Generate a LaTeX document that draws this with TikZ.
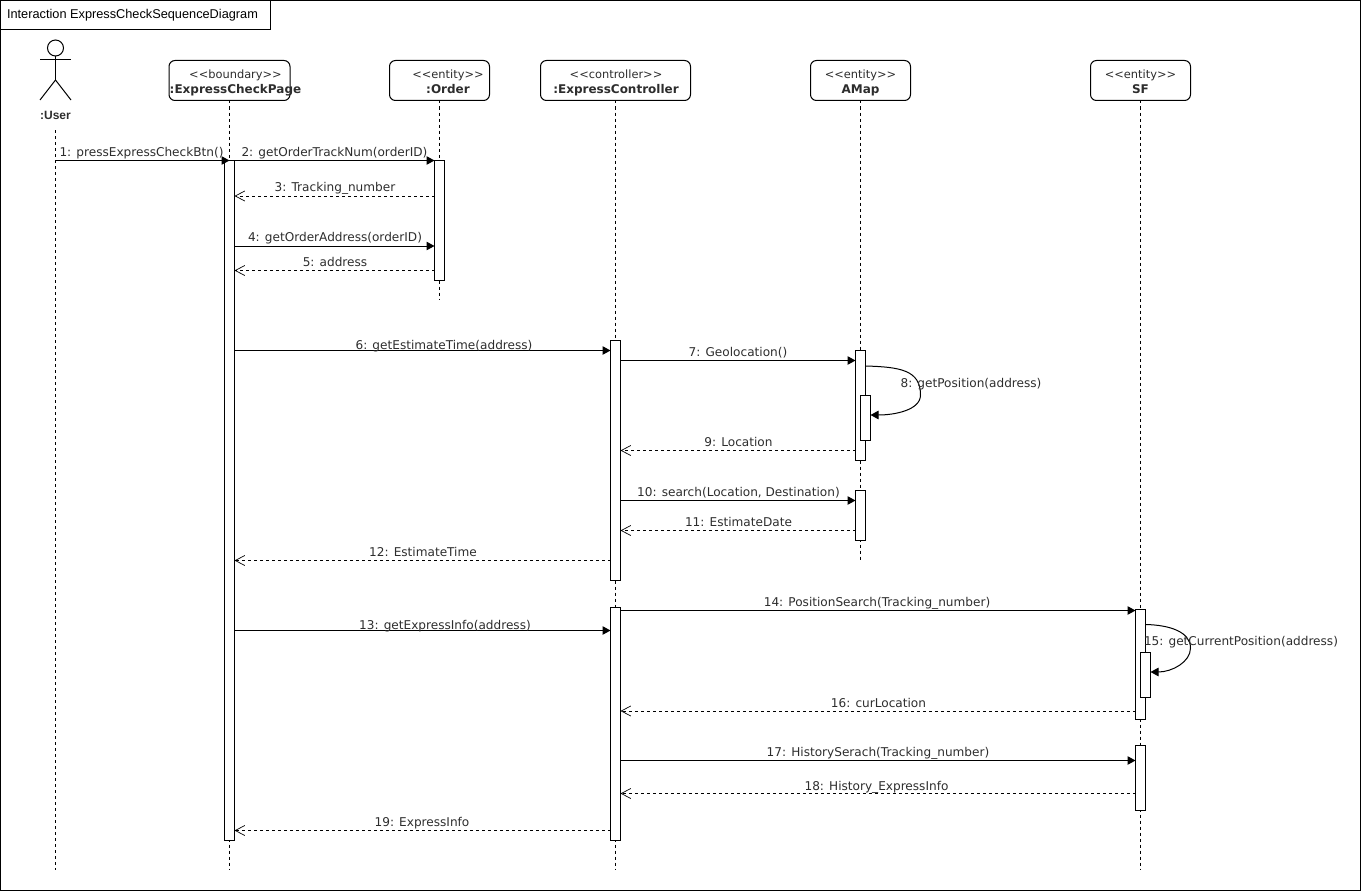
\documentclass[tikz,border=0pt]{standalone}
\usepackage{fontspec}
\setmainfont{DejaVu Sans}
\newfontfamily\titlefont{Liberation Sans}
\usetikzlibrary{arrows.meta}
\definecolor{cLabel}{RGB}{45,45,45}

\begin{document}
\begin{tikzpicture}[x=1pt,y=-1pt,line width=1pt,
    frame/.style={draw,minimum width=270pt,minimum height=30pt,inner sep=0pt,outer sep=0pt},
    lifebox/.style={draw,rounded corners=6pt,minimum height=40pt,inner sep=0pt,outer sep=0pt},
    stereo/.style={anchor=base,font=\fontsize{11.4}{14}\selectfont,text=cLabel,inner sep=0pt},
    objname/.style={anchor=base,font=\fontsize{12}{14}\selectfont\bfseries,text=cLabel,inner sep=0pt},
    msglabel/.style={anchor=base,font=\fontsize{12.1}{14}\selectfont,text=cLabel,inner sep=0pt},
    life/.style={dashed,dash pattern=on 3pt off 3pt},
    bar/.style={draw,fill=white,minimum width=10pt,inner sep=0pt,outer sep=0pt},
    call/.style={-{Triangle[length=8pt,width=8.5pt]}},
    reply/.style={dash pattern=on 3pt off 3pt,-{Straight Barb[length=9.5pt,width=10pt,line width=0.7pt]}}]
  \useasboundingbox (0,0) rectangle (1361,891);
  \draw (0.5,0.5) rectangle (1360.5,890.5);
  \node[frame] (title) at (135,15) {};
  \node[anchor=base,font=\fontsize{12.75}{14}\selectfont\titlefont,inner sep=0pt] (titleT) at (132.5,19) {Interaction ExpressCheckSequenceDiagram};

  \node[draw,circle,minimum size=16pt,inner sep=0pt,outer sep=0pt] (head) at (55.5,48) {};
  \coordinate (hip) at (55.5,80);
  \coordinate (armL) at (40,60);
  \coordinate (armR) at (71,60);
  \coordinate (footL) at (40,100);
  \coordinate (footR) at (71,100);
  \draw (head.south)--(hip); \draw (armL)--(armR);
  \draw (footL)--(hip)--(footR);
  \node[anchor=base,font=\fontsize{12}{14}\selectfont\titlefont\bfseries,text=cLabel,inner sep=0pt] (user) at (55.5,119) {:User};
  \coordinate (userTop) at (55.5,130);
  \coordinate (userEnd) at (55.5,870);

  \node[lifebox,minimum width=121pt] (page) at (229.5,80.5) {};
  \node[lifebox,minimum width=100pt] (order) at (439.5,80.5) {};
  \node[lifebox,minimum width=150pt] (ctrl) at (615.5,80.5) {};
  \node[lifebox,minimum width=100pt] (amap) at (860.5,80.5) {};
  \node[lifebox,minimum width=100pt] (sf) at (1140.5,80.5) {};
  \node[stereo] (pageS) at (235.5,79) {<{}<boundary>{}>};
  \node[objname] (pageN) at (235.5,93) {:ExpressCheckPage};
  \node[stereo] (orderS) at (448,79) {<{}<entity>{}>};
  \node[objname] (orderN) at (448,93) {:Order};
  \node[stereo] (ctrlS) at (616,79) {<{}<controller>{}>};
  \node[objname] (ctrlN) at (616,93) {:ExpressController};
  \node[stereo] (amapS) at (860.5,79) {<{}<entity>{}>};
  \node[objname] (amapN) at (860.5,93) {AMap};
  \node[stereo] (sfS) at (1140.5,79) {<{}<entity>{}>};
  \node[objname] (sfN) at (1140.5,93) {SF};

  \coordinate (pageEnd) at (229.5,870);
  \coordinate (orderEnd) at (439.5,300);
  \coordinate (ctrlEnd) at (615.5,870);
  \coordinate (amapEnd) at (860.5,560);
  \coordinate (sfEnd) at (1140.5,870);
  \draw[life] (userTop)--(userEnd);
  \draw[life] (page.south)--(pageEnd);
  \draw[life] (order.south)--(orderEnd);
  \draw[life] (ctrl.south)--(ctrlEnd);
  \draw[life] (amap.south)--(amapEnd);
  \draw[life] (sf.south)--(sfEnd);

  \node[bar,minimum height=680pt] (pageA) at (229.5,500.5) {};
  \node[bar,minimum height=120pt] (orderA) at (439.5,220.5) {};
  \node[bar,minimum height=240pt] (ctrlA) at (615.5,460.5) {};
  \node[bar,minimum height=233pt] (ctrlB) at (615.5,723.5) {};
  \node[bar,minimum height=110pt] (amapA) at (860.5,405.5) {};
  \node[bar,minimum height=45pt] (amapB) at (865.5,418) {};
  \node[bar,minimum height=50pt] (amapC) at (860.5,515.5) {};
  \node[bar,minimum height=110pt] (sfA) at (1140.5,664.5) {};
  \node[bar,minimum height=45pt] (sfB) at (1145.5,675) {};
  \node[bar,minimum height=65pt] (sfC) at (1140.5,778) {};

  \draw[call] (userEnd |- 0,160.5)--(pageA.north);
  \draw[call] (pageA.east |- 0,160.5)--(orderA.north west);
  \draw[reply] (orderA.west |- 0,196)--(pageA.east |- 0,196);
  \draw[call] (pageA.east |- 0,246)--(orderA.west |- 0,246);
  \draw[reply] (orderA.west |- 0,270.5)--(pageA.east |- 0,270.5);
  \draw[call] (pageA.east |- 0,350.5)--(ctrlA.west |- 0,350.5);
  \draw[call] (ctrlA.east |- 0,360.5)--(amapA.west |- 0,360.5);
  \draw[call] (amapA.east |- 0,366) .. controls (900,367) and (920.5,370) .. (920.5,395) .. controls (920.5,410) and (895,415) .. (amapB.east |- 0,415);
  \draw[reply] (amapA.west |- 0,450.5)--(ctrlA.east |- 0,450.5);
  \draw[call] (ctrlA.east |- 0,500.5)--(amapC.west |- 0,500.5);
  \draw[reply] (amapC.west |- 0,530.5)--(ctrlA.east |- 0,530.5);
  \draw[reply] (ctrlA.west |- 0,560.5)--(pageA.east |- 0,560.5);
  \draw[call] (ctrlB.east |- 0,610.5)--(sfA.west |- 0,610.5);
  \draw[call] (pageA.east |- 0,630.5)--(ctrlB.west |- 0,630.5);
  \draw[call] (sfA.east |- 0,624.5) .. controls (1170,625) and (1190.5,632) .. (1190.5,648) .. controls (1190.5,662) and (1172,672) .. (sfB.east |- 0,672);
  \draw[reply] (sfA.west |- 0,711)--(ctrlB.east |- 0,711);
  \draw[call] (ctrlB.east |- 0,760.5)--(sfC.west |- 0,760.5);
  \draw[reply] (sfC.west |- 0,793.5)--(ctrlB.east |- 0,793.5);
  \draw[reply] (ctrlB.west |- 0,830.5)--(pageA.east |- 0,830.5);

  \node[msglabel] (m1) at (141.5,156) {1: pressExpressCheckBtn()};
  \node[msglabel] (m2) at (334.5,156) {2: getOrderTrackNum(orderID)};
  \node[msglabel] (m3) at (335,191) {3: Tracking\_number};
  \node[msglabel] (m4) at (335,241) {4: getOrderAddress(orderID)};
  \node[msglabel] (m5) at (335,266) {5: address};
  \node[msglabel] (m6) at (444,349) {6: getEstimateTime(address)};
  \node[msglabel] (m7) at (738,356) {7: Geolocation()};
  \node[msglabel] (m8) at (971,387) {8: getPosition(address)};
  \node[msglabel] (m9) at (738.5,446) {9: Location};
  \node[msglabel] (m10) at (738.5,496) {10: search(Location, Destination)};
  \node[msglabel] (m11) at (738.5,526) {11: EstimateDate};
  \node[msglabel] (m12) at (423,556) {12: EstimateTime};
  \node[msglabel] (m13) at (445,629) {13: getExpressInfo(address)};
  \node[msglabel] (m14) at (877,606) {14: PositionSearch(Tracking\_number)};
  \node[msglabel] (m15) at (1241,645) {15: getCurrentPosition(address)};
  \node[msglabel] (m16) at (878.5,707) {16: curLocation};
  \node[msglabel] (m17) at (878,756) {17: HistorySerach(Tracking\_number)};
  \node[msglabel] (m18) at (876.5,790) {18: History\_ExpressInfo};
  \node[msglabel] (m19) at (422,826) {19: ExpressInfo};
\end{tikzpicture}
\end{document}
